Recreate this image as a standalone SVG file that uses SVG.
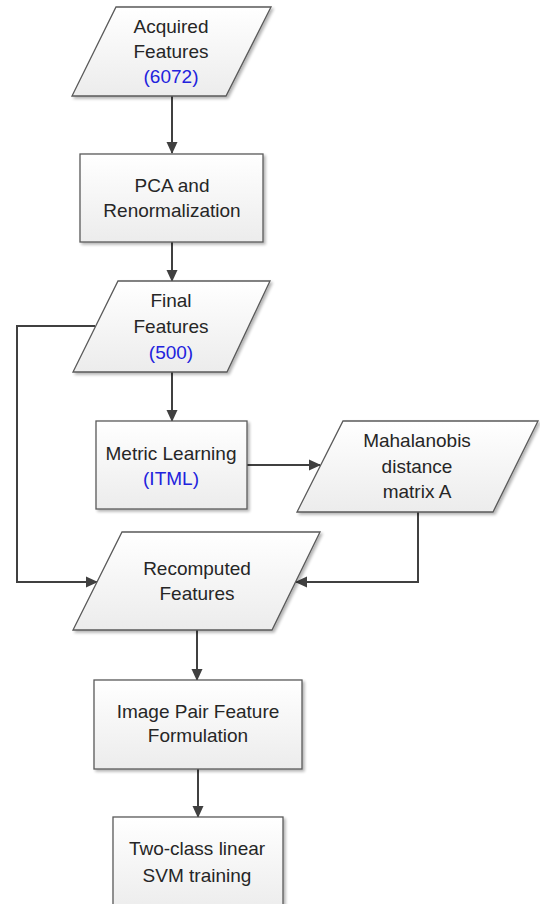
<svg xmlns="http://www.w3.org/2000/svg" width="540" height="904" viewBox="0 0 540 904">
<defs>
<linearGradient id="g" x1="0" y1="0" x2="0" y2="1">
<stop offset="0" stop-color="#ffffff"/>
<stop offset="1" stop-color="#ececec"/>
</linearGradient>
<filter id="sh" x="-10%" y="-10%" width="130%" height="130%">
<feGaussianBlur in="SourceAlpha" stdDeviation="1.5"/>
<feOffset dx="2" dy="2" result="b"/>
<feComponentTransfer><feFuncA type="linear" slope="0.3"/></feComponentTransfer>
<feMerge><feMergeNode/><feMergeNode in="SourceGraphic"/></feMerge>
</filter>
<marker id="ah" markerWidth="12" markerHeight="12" refX="11" refY="6" orient="auto" markerUnits="userSpaceOnUse">
<path d="M0,0.5 L12,6 L0,11.5 Z" fill="#404040"/>
</marker>
</defs>
<style>
.s{fill:url(#g);stroke:#5a5a5a;stroke-width:1.3;filter:url(#sh)}
.t{font-family:"Liberation Sans",Arial,sans-serif;font-size:19px;fill:#262626;text-anchor:middle}
.b{fill:#2222dd}
.c{fill:none;stroke:#404040;stroke-width:2;marker-end:url(#ah)}
</style>
<g id="connectors">
<path class="c" d="M172,96 V153"/>
<path class="c" d="M172,242 V281"/>
<path class="c" d="M172,372 V421"/>
<path class="c" d="M247,465 H320"/>
<path class="c" d="M418,512 V582 H296"/>
<path class="c" d="M95,326 H17 V582 H97"/>
<path class="c" d="M197,630 V680"/>
<path class="c" d="M198,769 V817"/>
</g>
<g id="acquired">
<polygon class="s" points="116,7 271,7 226,96 72,96"/>
<text class="t" x="171" y="33">Acquired</text>
<text class="t" x="171" y="58">Features</text>
<text class="t b" x="171" y="83">(6072)</text>
</g>
<g id="pca">
<rect class="s" x="80" y="154" width="183" height="88"/>
<text class="t" x="172" y="192">PCA and</text>
<text class="t" x="172" y="217">Renormalization</text>
</g>
<g id="final">
<polygon class="s" points="118,281 270,281 227,372 73,372"/>
<text class="t" x="171" y="307">Final</text>
<text class="t" x="171" y="333">Features</text>
<text class="t b" x="171" y="359">(500)</text>
</g>
<g id="metric">
<rect class="s" x="96" y="421" width="151" height="88"/>
<text class="t" x="171" y="460">Metric Learning</text>
<text class="t b" x="171" y="485">(ITML)</text>
</g>
<g id="mahalanobis">
<polygon class="s" points="343,421 538,421 493,512 297,512"/>
<text class="t" x="417" y="447">Mahalanobis</text>
<text class="t" x="417" y="473">distance</text>
<text class="t" x="417" y="498">matrix A</text>
</g>
<g id="recomputed">
<polygon class="s" points="122,532 320,532 272,630 73,630"/>
<text class="t" x="197" y="575">Recomputed</text>
<text class="t" x="197" y="600">Features</text>
</g>
<g id="imagepair">
<rect class="s" x="94" y="680" width="208" height="89"/>
<text class="t" x="198" y="718">Image Pair Feature</text>
<text class="t" x="198" y="742">Formulation</text>
</g>
<g id="svm">
<rect class="s" x="113" y="817" width="170" height="95"/>
<text class="t" x="197" y="855">Two-class linear</text>
<text class="t" x="197" y="882">SVM training</text>
</g>
</svg>
